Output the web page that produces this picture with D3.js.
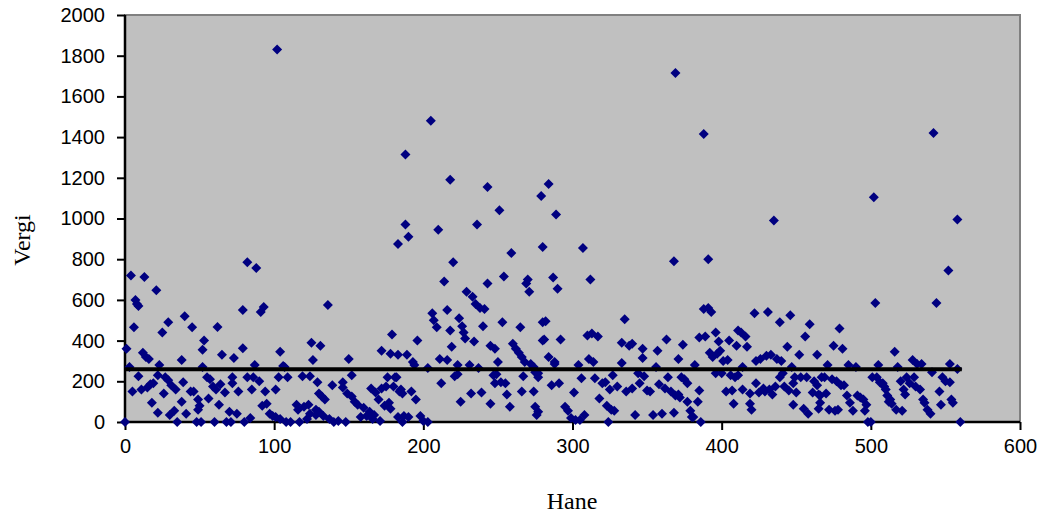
<!DOCTYPE html>
<html>
<head>
<meta charset="utf-8">
<script src="https://cdn.jsdelivr.net/npm/d3@7"></script>
<style>
  html, body { margin: 0; padding: 0; background: #ffffff; }
  svg { display: block; }
</style>
</head>
<body>
<svg id="chart" width="1049" height="519"></svg>
<script>
// ---- data (Hane, Vergi) ----
const pointsA = [
  [0,0],[1,360],[3,270],[4,720],[5,150],[6,465],[7,600],[8,580],[9,570],[9,225],[11,160],[12,340],
  [13,712],[14,320],[15,170],[16,310],[17,185],[18,95],[19,190],[21,648],[22,230],[22,45],[23,280],
  [25,440],[26,140],[27,220],[29,490],[29,205],[30,35],[31,180],[33,55],[34,160],[35,0],[38,305],
  [38,100],[39,195],[40,520],[41,40],[44,150],[45,465],[46,150],[48,0],[49,110],[49,60],[50,80],
  [51,0],[52,355],[52,270],[53,400],[55,220],[56,115],[57,210],[59,175],[60,0],[61,160],[62,467],
  [63,85],[64,185],[65,330],[67,145],[68,0],[70,50],[71,0],[72,220],[72,190],[73,315],[75,40],
  [76,150],[79,550],[79,362],[80,0],[82,785],[82,220],[84,20],[85,160],[86,220],[87,280],[88,757],
  [90,200],[91,540],[92,80],[93,565]
];
const pointsB = [
  [94,150],[95,90],[97,40],[99,30],[101,160],[101,25],[102,1830],[103,220],[104,345],[104,15],
  [106,275],[107,270],[108,0],[109,220],[111,0],[115,85],[116,60],[117,0],[119,225],[120,75],
  [122,15],[123,85],[124,225],[124,40],[125,390],[126,305],[128,60],[128,35],[129,195],[130,140],
  [130,50],[131,375],[132,125],[133,30],[134,110],[136,575],[137,15],[139,180],[140,0],[143,5],
  [146,195],[146,170],[148,0],[149,140],[150,310],[152,230],[152,125],[154,100],[156,85],[158,25],
  [160,70],[162,30],[164,50],[165,165],[166,15],[167,35],[168,145],[170,110],[171,5],[172,350],
  [172,165],[174,80],[175,175],[176,220],[177,95],[178,335],[178,65],[179,430],[180,175],[182,220],
  [183,875],[183,330],[184,150],[186,0]
];
const pointsC = [
  [181,220],[183,25],[185,160],[186,140],[187,30],[188,1315],[188,970],[189,330],[190,910],[190,25],
  [192,150],[193,295],[194,280],[195,110],[196,400],[198,30],[200,5],[203,265],[203,0],[205,1480],
  [206,535],[207,500],[209,465],[210,945],[211,310],[212,190],[214,690],[216,550],[216,305],
  [218,1190],[218,450],[219,370],[220,785],[221,225],[223,280],[223,235],[224,510],[225,100],
  [226,470],[227,440],[228,410],[229,640],[231,280],[232,140],[233,615],[234,395],[235,580],
  [236,970],[237,265],[238,560],[239,145],[240,470],[241,555],[243,1155],[243,680],[245,375],
  [245,90],[247,230],[248,360],[248,190],[249,235],[250,295],[251,1040],[252,195],[253,490],
  [254,715],[255,190],[256,135],[258,75],[259,830],[260,385],[262,360],[264,340],[265,465],
  [266,320],[266,150],[267,225],[268,295],[269,680],[270,700],[271,640],[272,285],[274,270],
  [274,150],[275,75],[276,35],[277,240],[279,1110],[280,860],[280,490],[280,400]
];
const pointsD = [
  [275,245],[277,220],[277,50],[281,405],[282,495],[284,320],[284,1170],[286,180],[287,710],
  [288,295],[288,285],[289,1020],[290,655],[291,190],[292,405],[295,75],[297,55],[299,20],
  [301,145],[302,10],[304,280],[305,10],[306,215],[307,855],[308,35],[310,425],[311,310],
  [312,700],[313,435],[314,295],[315,215],[317,420],[318,115],[320,190],[322,195],[323,80],
  [324,0],[325,160],[326,60],[327,230],[328,55],[330,175],[333,390],[333,290],[335,505],[336,150],
  [338,375],[340,385],[340,165],[342,35],[344,240],[345,190],[347,360],[347,315],[348,225],
  [350,155],[352,150],[354,35],[356,270],[357,350],[358,185],[360,40],[362,165],[363,405],
  [364,220],[366,150],[368,790],[368,45],[369,1715],[371,310],[371,135],[374,380]
];
const pointsE = [
  [369,130],[372,120],[373,220],[375,210],[377,190],[377,100],[379,55],[380,25],[381,25],[382,280],
  [384,100],[385,155],[386,0],[385,415],[388,555],[388,1415],[389,420],[391,800],[391,560],
  [392,340],[393,540],[394,320],[396,440],[396,240],[397,335],[398,395],[399,350],[400,240],
  [401,300],[403,150],[404,305],[405,400],[406,230],[407,155],[408,90],[409,220],[410,375],
  [411,450],[411,230],[413,440],[414,160],[414,270],[416,420],[417,370],[419,140],[419,90],
  [420,60],[422,535],[423,190],[423,300],[425,145],[426,310],[428,165],[429,150],[430,325],
  [431,540],[432,160],[433,330],[434,135],[435,990],[436,175],[437,310],[439,490],[439,220],
  [440,300],[441,240],[442,175],[444,370],[445,155],[446,525],[447,270],[448,190],[448,85],
  [449,220],[450,145],[452,330],[453,220],[455,65],[456,420],[457,220],[458,40],[459,480],
  [461,145],[462,200],[464,330],[465,65],[466,130]
];
const pointsF = [
  [464,180],[465,135],[466,95],[467,220],[469,220],[470,140],[471,280],[472,60],[474,210],[475,375],
  [476,55],[477,200],[478,60],[479,460],[480,180],[481,360],[482,180],[484,130],[485,280],[486,95],
  [488,55],[490,270],[491,130],[493,120],[495,110],[496,55],[497,85],[498,0],[500,0],[501,220],
  [502,1105],[503,585],[504,220],[505,280],[506,195],[508,190],[509,175],[510,160],[511,130],
  [512,100],[513,110],[514,90],[516,345],[517,60],[518,270],[520,200],[521,55],[522,160],[523,135],
  [524,220],[526,190],[528,305],[529,220],[530,175],[531,285],[533,160],[534,285],[535,110],
  [536,95],[538,60],[540,40],[541,245],[542,1420],[544,585],[546,150],[547,85],[548,220],[550,200],
  [552,745],[553,285],[553,195],[554,110],[555,95],[558,260],[558,995],[560,0]
];
const averageVergi = 259;
const averageRange = [0, 561];
const xTicks = [0, 100, 200, 300, 400, 500, 600];
const yTicks = [0, 200, 400, 600, 800, 1000, 1200, 1400, 1600, 1800, 2000];
const xTitle = "Hane";
const yTitle = "Vergi";

const points = [].concat(pointsA, pointsB, pointsC, pointsD, pointsE, pointsF);

// ---- layout ----
const svg = d3.select("#chart");
const L = 125, R = 1020, T = 15, B = 422;
const x = d3.scaleLinear().domain([0, 600]).range([L, R]);
const y = d3.scaleLinear().domain([0, 2000]).range([B, T]);

svg.append("rect").attr("width", 1049).attr("height", 519).attr("fill", "#ffffff");

// plot area
svg.append("rect")
  .attr("x", L).attr("y", T).attr("width", R - L).attr("height", B - T)
  .attr("fill", "#C0C0C0").attr("stroke", "#808080").attr("stroke-width", 2);

// axes
const yAxis = d3.axisLeft(y).tickValues(yTicks).tickSize(8).tickPadding(12).tickFormat(d3.format("d"));
const xAxis = d3.axisBottom(x).tickValues(xTicks).tickSize(8).tickPadding(9).tickFormat(d3.format("d"));

const gy = svg.append("g").attr("transform", `translate(${L},0)`).call(yAxis);
const gx = svg.append("g").attr("transform", `translate(0,${B})`).call(xAxis);

[gx, gy].forEach(g => {
  g.select(".domain").attr("stroke", "#000").attr("stroke-width", 2.5);
  g.selectAll(".tick line").attr("stroke", "#000").attr("stroke-width", 2);
  g.selectAll(".tick text")
    .attr("fill", "#000")
    .style("font-family", "'Liberation Sans', Arial, sans-serif")
    .style("font-size", "20px");
});
gy.select(".domain").attr("d", `M0,${T}V${B}`);
gx.select(".domain").attr("d", `M${L},0H${R}`);

// points
const diamond = d3.symbol().type(d3.symbolSquare).size(50);
svg.append("g").selectAll("path")
  .data(points)
  .join("path")
  .attr("d", diamond)
  .attr("transform", d => `translate(${x(d[0])},${y(d[1])}) rotate(45)`)
  .attr("fill", "#000080");

// average line
svg.append("line")
  .attr("x1", x(averageRange[0])).attr("x2", x(averageRange[1]))
  .attr("y1", y(averageVergi)).attr("y2", y(averageVergi))
  .attr("stroke", "#000").attr("stroke-width", 4);

// titles
svg.append("text")
  .attr("x", (L + R) / 2 - 0.5).attr("y", 509)
  .attr("text-anchor", "middle")
  .style("font-family", "'Liberation Serif', 'Times New Roman', serif")
  .style("font-size", "24px")
  .text(xTitle);

svg.append("text")
  .attr("transform", "translate(30,240) rotate(-90)")
  .attr("text-anchor", "middle")
  .style("font-family", "'Liberation Serif', 'Times New Roman', serif")
  .style("font-size", "24px")
  .text(yTitle);
</script>
</body>
</html>
